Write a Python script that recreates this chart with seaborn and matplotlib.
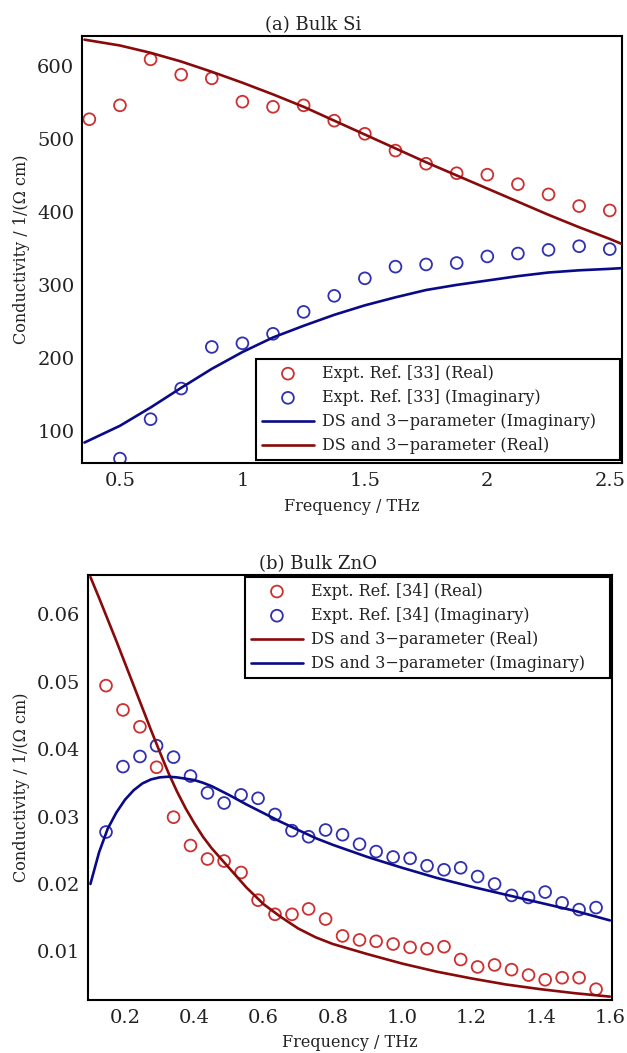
import numpy as np
import pandas as pd
import matplotlib
matplotlib.use("Agg")
import matplotlib.pyplot as plt
import seaborn as sns

# ---------------- Data: (a) Bulk Si ----------------
si_freq_real = [0.375, 0.5, 0.625, 0.75, 0.875, 1.0, 1.125, 1.25, 1.375, 1.5,
                1.625, 1.75, 1.875, 2.0, 2.125, 2.25, 2.375, 2.5]
si_expt_real = [527, 546, 609, 588, 583, 551, 544, 546, 525, 507,
                484, 466, 453, 451, 438, 424, 408, 402]
si_freq_imag = [0.5, 0.625, 0.75, 0.875, 1.0, 1.125, 1.25, 1.375, 1.5,
                1.625, 1.75, 1.875, 2.0, 2.125, 2.25, 2.375, 2.5]
si_expt_imag = [62, 116, 158, 215, 220, 233, 263, 285, 309,
                325, 328, 330, 339, 343, 348, 353, 349]
si_fit_freq = [0.355, 0.5, 0.625, 0.75, 0.875, 1.0, 1.125, 1.25, 1.375, 1.5,
               1.625, 1.75, 1.875, 2.0, 2.125, 2.25, 2.375, 2.5, 2.55]
si_fit_real = [636, 628, 618, 606, 592, 577, 561, 544, 525, 506,
               487, 468, 450, 432, 414, 396, 379, 363, 356]
si_fit_imag = [84, 107, 132, 159, 185, 208, 228, 244, 259, 272,
               283, 293, 300, 306, 312, 317, 320, 322, 323]

# ---------------- Data: (b) Bulk ZnO ----------------
zno_freq = [0.145, 0.194, 0.243, 0.291, 0.340, 0.389, 0.438, 0.486, 0.535, 0.584,
            0.633, 0.682, 0.730, 0.779, 0.828, 0.877, 0.925, 0.974, 1.023, 1.072,
            1.121, 1.169, 1.218, 1.267, 1.316, 1.365, 1.413, 1.462, 1.511, 1.560]
zno_expt_real = [0.0494, 0.0458, 0.0433, 0.0373, 0.0299, 0.0257, 0.0237, 0.0234, 0.0217, 0.0176,
                 0.0155, 0.0155, 0.0163, 0.0148, 0.0123, 0.0117, 0.0115, 0.0111, 0.0106, 0.0104,
                 0.0107, 0.0088, 0.0077, 0.0080, 0.0073, 0.0065, 0.0058, 0.0061, 0.0061, 0.0044]
zno_expt_imag = [0.0277, 0.0374, 0.0389, 0.0405, 0.0388, 0.0360, 0.0335, 0.0320, 0.0332, 0.0327,
                 0.0303, 0.0279, 0.0270, 0.0280, 0.0273, 0.0259, 0.0248, 0.0240, 0.0238, 0.0227,
                 0.0221, 0.0224, 0.0211, 0.0200, 0.0183, 0.0180, 0.0188, 0.0172, 0.0162, 0.0165]
zno_fit_freq = [0.10, 0.125, 0.15, 0.175, 0.20, 0.225, 0.25, 0.275, 0.30, 0.325, 0.35, 0.375,
                0.40, 0.425, 0.45, 0.50, 0.55, 0.60, 0.65, 0.70, 0.75, 0.80, 0.90,
                1.00, 1.10, 1.20, 1.30, 1.40, 1.50, 1.60]
zno_fit_real = [0.0655, 0.0624, 0.0592, 0.0560, 0.0527, 0.0494, 0.0461, 0.0428, 0.0396, 0.0365,
                0.0337, 0.0312, 0.0290, 0.0270, 0.0253, 0.0224, 0.0195, 0.0170, 0.0151, 0.0134,
                0.0121, 0.0111, 0.0096, 0.0082, 0.0070, 0.0060, 0.0051, 0.0044, 0.0038, 0.0033]
zno_fit_imag = [0.0200, 0.0247, 0.0282, 0.0306, 0.0325, 0.0339, 0.0349, 0.0355, 0.0358, 0.0359,
                0.0358, 0.0356, 0.0354, 0.0350, 0.0345, 0.0332, 0.0318, 0.0305, 0.0292, 0.0280,
                0.0268, 0.0258, 0.0240, 0.0224, 0.0209, 0.0196, 0.0184, 0.0172, 0.0160, 0.0146]

si_xticks = [0.5, 1, 1.5, 2, 2.5]
si_xticklabels = ["0.5", "1", "1.5", "2", "2.5"]
si_yticks = [100, 200, 300, 400, 500, 600]
zno_xticks = [0.2, 0.4, 0.6, 0.8, 1.0, 1.2, 1.4, 1.6]
zno_xticklabels = ["0.2", "0.4", "0.6", "0.8", "1.0", "1.2", "1.4", "1.6"]
zno_yticks = [0.01, 0.02, 0.03, 0.04, 0.05, 0.06]
zno_yticklabels = ["0.01", "0.02", "0.03", "0.04", "0.05", "0.06"]

# ---------------- Style ----------------
sns.set_theme(style="white")
plt.rcParams["font.family"] = ["DejaVu Serif", "DejaVu Sans"]
plt.rcParams["mathtext.fontset"] = "dejavuserif"

C_RED_PT = "#cc3030"
C_BLUE_PT = "#3030b0"
C_RED_LN = "#880a0a"
C_BLUE_LN = "#0a0a88"

W, H = 627, 1053
fig = plt.figure(figsize=(W / 100, H / 100), dpi=100)

ax1 = fig.add_axes([82 / W, 1 - 463 / H, 540 / W, 427 / H])
ax2 = fig.add_axes([88 / W, 1 - 1000 / H, 524 / W, 425 / H])

MS = 72
MLW = 1.3
LLW = 1.9


def points(ax, x, y, color, label):
    sns.scatterplot(x=x, y=y, ax=ax, marker="o", s=MS, facecolor="none",
                    edgecolor=color, linewidth=MLW, label=label, zorder=2)


def curve(ax, x, y, color, label):
    sns.lineplot(x=x, y=y, ax=ax, color=color, linewidth=LLW, label=label,
                 estimator=None, sort=False, zorder=3)


# ---- (a) Bulk Si ----
points(ax1, si_freq_real, si_expt_real, C_RED_PT, "Expt. Ref. [33] (Real)")
points(ax1, si_freq_imag, si_expt_imag, C_BLUE_PT, "Expt. Ref. [33] (Imaginary)")
curve(ax1, si_fit_freq, si_fit_imag, C_BLUE_LN, "DS and 3\u2212parameter (Imaginary)")
curve(ax1, si_fit_freq, si_fit_real, C_RED_LN, "DS and 3\u2212parameter (Real)")

ax1.set_xlim(0.345, 2.55)
ax1.set_ylim(56, 641)
ax1.set_xticks(si_xticks)
ax1.set_xticklabels(si_xticklabels)
ax1.set_yticks(si_yticks)

# ---- (b) Bulk ZnO ----
points(ax2, zno_freq, zno_expt_real, C_RED_PT, "Expt. Ref. [34] (Real)")
points(ax2, zno_freq, zno_expt_imag, C_BLUE_PT, "Expt. Ref. [34] (Imaginary)")
curve(ax2, zno_fit_freq, zno_fit_real, C_RED_LN, "DS and 3\u2212parameter (Real)")
curve(ax2, zno_fit_freq, zno_fit_imag, C_BLUE_LN, "DS and 3\u2212parameter (Imaginary)")

ax2.set_xlim(0.093, 1.606)
ax2.set_ylim(0.0028, 0.0658)
ax2.set_xticks(zno_xticks)
ax2.set_xticklabels(zno_xticklabels)
ax2.set_yticks(zno_yticks)
ax2.set_yticklabels(zno_yticklabels)

for ax in (ax1, ax2):
    for sp in ax.spines.values():
        sp.set_color("black")
        sp.set_linewidth(1.5)
    ax.tick_params(axis="both", which="major", labelsize=14, length=2,
                   width=0.8, direction="out", colors="#222222")
    ax.tick_params(axis="both", which="major", color="#c8c8c8")
    ax.tick_params(axis="y", pad=3.5)
    ax.tick_params(axis="x", pad=4.5)
    ax.set_xlabel("Frequency / THz", fontsize=11.5, color="#222222")
    ax.set_ylabel("Conductivity / 1/(\u03a9 cm)", fontsize=11.5, color="#222222")
    ax.grid(False)

ax1.xaxis.set_label_coords(0.5, -0.081)
ax2.xaxis.set_label_coords(0.5, -0.079)
ax1.yaxis.set_label_coords((30 - 82) / 540, 0.5)
ax2.yaxis.set_label_coords((30 - 88) / 524, 0.5)

ax1.set_title("(a) Bulk Si", fontsize=13, x=(313 - 82) / 540, pad=4, color="#222222")
ax2.set_title("(b) Bulk ZnO", fontsize=13, x=(318 - 88) / 524, pad=4, color="#222222")

leg_kw = dict(fontsize=11.5, frameon=True, fancybox=False, edgecolor="black",
              framealpha=1, borderaxespad=0, handlelength=3.3, handletextpad=0.5,
              labelspacing=0.45, borderpad=0.35, mode="expand")

h1, l1 = ax1.get_legend_handles_labels()
leg1 = ax1.legend(h1, l1, loc="lower left",
                  bbox_to_anchor=((256 - 82) / 540, 0.007, (620 - 256) / 540, 0.3),
                  **leg_kw)
leg1.get_frame().set_linewidth(1.5)

h2, l2 = ax2.get_legend_handles_labels()
leg2 = ax2.legend(h2, l2, loc="upper left",
                  bbox_to_anchor=((245 - 88) / 524, 0.70, (610 - 245) / 524, 0.295),
                  **leg_kw)
leg2.get_frame().set_linewidth(1.5)

for leg in (leg1, leg2):
    for t in leg.get_texts():
        t.set_color("#222222")

fig.savefig("out.png", dpi=100)
